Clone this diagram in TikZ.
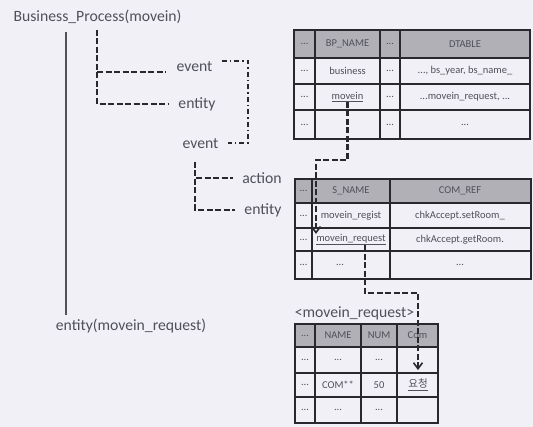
\documentclass[tikz,border=0pt]{standalone}
\usepackage{fontspec}
\setmainfont{Carlito}
\newfontfamily\krfont{Noto Sans CJK KR}
\usetikzlibrary{arrows.meta}
\definecolor{bg}{RGB}{240,240,246}
\definecolor{txt}{RGB}{80,80,90}
\definecolor{ln}{RGB}{40,40,45}
\definecolor{hd}{RGB}{176,176,182}
\tikzset{
 lbl/.style={text=txt, font=\fontsize{15.7}{18}\selectfont, inner sep=0pt},
 cell/.style={text=txt, font=\fontsize{10.5}{12}\selectfont, inner sep=0pt},
 grid/.style={draw=ln, line width=1.4pt},
 dsh/.style={draw=ln, line width=2.2pt, dash pattern=on 6pt off 2.5pt},
 dd/.style={draw=ln, line width=1.6pt, dash pattern=on 5pt off 3pt on 1.5pt off 3pt},
 solidln/.style={draw=ln!80, line width=1.8pt},
 arr/.style={-{Straight Barb[length=6pt,width=9pt,line width=1.6pt]}},
}
\begin{document}
\begin{tikzpicture}[x=1pt,y=-1pt]
\fill[bg] (0,0) rectangle (533,427);
\useasboundingbox (0,0) rectangle (533,427);

% ---------- left labels ----------
\node[lbl] (bp)  at (97.5,17)  {Business\_Process(movein)};
\node[lbl] (em)  at (131,326)  {entity(movein\_request)};
\node[lbl] (ev1) at (194.5,67) {event};
\node[lbl] (en1) at (197,104)  {entity};
\node[lbl] (ev2) at (200.5,144){event};
\node[lbl] (ac)  at (262,178)  {action};
\node[lbl] (en2) at (263,210)  {entity};
\coordinate (t1) at (97,30);
\coordinate (t2) at (195,162);

% solid line
\draw[solidln] ([xshift=10pt]em.north west |- 0,32) -- ([xshift=10pt, yshift=4pt]em.north west);

% dashed tree 1
\draw[dsh] (t1) |- ([xshift=-10pt]en1.west);
\draw[dsh] (t1 |- ev1.south) -- ([xshift=-10pt]ev1.west |- ev1.south);
% dashed tree 2
\draw[dsh] (t2) |- ([xshift=-9pt]ac.west);
\draw[dsh] (t2) |- ([xshift=-9pt]en2.west);
% dash-dot link event -> event
\draw[dd] ([xshift=9pt,yshift=1pt]ev1.north east) -| (248,143) -- ([xshift=9pt]ev2.east |- 0,143);

% ---------- table 1 ----------
\fill[hd] (294,30) rectangle (530,58);
\draw[grid] (294,30) rectangle (530,139);
\foreach \y in {58,84,110} \draw[grid] (294,\y) -- (530,\y);
\foreach \x in {315,380,400} \draw[grid] (\x,30) -- (\x,139);
\node[cell] at (304.5,44) {...};
\node[cell] at (347.5,44) {BP\_NAME};
\node[cell] at (390,44) {...};
\node[cell] at (465,44) {DTABLE};
\node[cell] at (304.5,71) {...};
\node[cell] at (347.5,71) {business};
\node[cell] at (390,71) {...};
\node[cell] at (465,71) {..., bs\_year, bs\_name\_};
\node[cell] at (304.5,97) {...};
\node[cell] (mv) at (347.5,97) {\underline{movein}};
\node[cell] at (390,97) {...};
\node[cell] at (465,97) {...movein\_request, ...};
\node[cell] at (304.5,124.5) {...};
\node[cell] at (390,124.5) {...};
\node[cell] at (465,124.5) {...};

% ---------- table 2 ----------
\fill[hd] (295,179) rectangle (531,203);
\draw[grid] (295,179) rectangle (531,279);
\foreach \y in {203,228,251} \draw[grid] (295,\y) -- (531,\y);
\foreach \x in {312,390} \draw[grid] (\x,179) -- (\x,279);
\node[cell] at (303.5,191) {...};
\node[cell] at (351,191) {S\_NAME};
\node[cell] at (460,191) {COM\_REF};
\node[cell] at (303.5,215.5) {...};
\node[cell] at (351,215.5) {movein\_regist};
\node[cell] at (460,215.5) {chkAccept.setRoom\_};
\node[cell] at (303.5,239.5) {...};
\node[cell] (mr) at (351,239.5) {\underline{movein\_request}};
\node[cell] at (460,239.5) {chkAccept.getRoom.};
\node[cell] at (303.5,265) {...};
\node[cell] at (340,265) {...};
\node[cell] at (460,265) {...};

% ---------- table 3 ----------
\node[lbl] (lb) at (354.5,313) {<movein\_request>};
\fill[hd] (295,324) rectangle (438,347);
\draw[grid] (295,324) rectangle (438,423);
\foreach \y in {347,373,397} \draw[grid] (295,\y) -- (438,\y);
\foreach \x in {315,361,397} \draw[grid] (\x,324) -- (\x,423);
\node[cell] at (305,335.5) {...};
\node[cell] at (338,335.5) {NAME};
\node[cell] at (379,335.5) {NUM};
\node[cell] at (417.5,335.5) {Com};
\node[cell] at (305,360) {...};
\node[cell] at (338,360) {...};
\node[cell] at (379,360) {...};
\node[cell] at (305,385) {...};
\node[cell] at (338,385) {COM**};
\node[cell] at (379,385) {50};
\node[cell] (rq) at (418,385) {\krfont\underline{요청}};
\node[cell] at (305,410) {...};
\node[cell] at (338,410) {...};
\node[cell] at (379,410) {...};

% ---------- connectors ----------
\coordinate (k2) at (316,160);
\draw[dsh,arr] (mv.south) |- (k2) -- (k2 |- mr.north);
\coordinate (k3) at (418,293);
\draw[dsh,arr] ([xshift=14pt]mr.south) |- (k3) -- ([yshift=9pt]rq.north);
\end{tikzpicture}
\end{document}
